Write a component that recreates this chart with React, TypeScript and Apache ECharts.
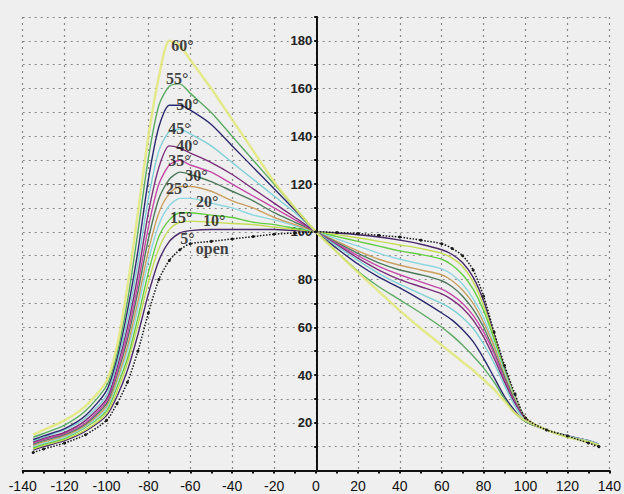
import React, { useEffect, useRef } from "react";
import * as echarts from "echarts";

const xValues = [-135, -130, -120, -110, -100, -95, -90, -85, -80, -75, -70, -65, -60, -50, -40, -30, -20, -10, 0, 10, 20, 30, 40, 50, 60, 65, 70, 75, 80, 85, 90, 95, 100, 110, 120, 130, 135];

const seriesNames = ["open", "5°", "10°", "15°", "20°", "25°", "30°", "35°", "40°", "45°", "50°", "55°", "60°"];

const openVals = [7.5, 9, 11.5, 15, 21, 28, 37, 50, 66, 80, 88, 92.5, 95, 96, 97, 98, 99, 99.5, 100, 99.7, 99.3, 98.5, 97.8, 96.5, 95, 93, 90, 84, 73, 58, 44, 32, 22, 17, 14.5, 11.5, 10];
const deg5 = [8.5, 10, 12.5, 16.5, 23, 31, 42, 57, 74, 88, 96, 99.5, 100.5, 101, 101, 101, 101, 100.5, 100, 99.5, 98.8, 97.8, 96.5, 94.8, 92.5, 90.5, 87, 81, 71, 57, 43, 31, 22, 17, 14.5, 12, 10.5];
const deg10 = [9, 10.5, 13, 17, 24, 33, 45, 61, 79, 93, 101, 104, 104.5, 104, 103.5, 103, 102, 101, 100, 98.8, 97.5, 96, 94.5, 93, 91, 89, 85.5, 79, 69, 56, 42, 31, 22, 17, 14.5, 12, 10.5];
const deg15 = [9.5, 11, 13.5, 18, 25, 35, 47, 64, 83, 98, 105, 108, 108, 107, 106, 104, 103, 101.5, 100, 98, 96, 94, 92, 90.5, 88.5, 86, 82, 76, 67, 55, 42, 30, 22, 17, 14.5, 12, 11];
const deg20 = [10, 11.5, 14, 18.5, 26, 37, 50, 68, 88, 103, 111, 114, 114, 112, 110, 107, 105, 102.5, 100, 97, 94, 91, 88.5, 86.5, 84.5, 82, 78, 72, 64, 53, 41, 30, 22, 17, 14.5, 12.5, 11];
const deg25 = [10.5, 12, 14.5, 19, 27, 38, 52, 71, 92, 108, 116, 119, 119, 117, 113, 110, 106, 103, 100, 96, 92, 88.5, 86, 84, 82, 79.5, 75.5, 70, 62, 52, 40, 29.5, 22, 17, 14.5, 12.5, 11];
const deg30 = [11, 12.5, 15, 19.5, 28, 40, 55, 75, 97, 114, 122, 125, 124, 121, 117, 113, 108, 104, 100, 95.5, 91, 87, 84, 82, 79.5, 77, 73, 67.5, 60, 50, 39, 29, 21.5, 17, 14.5, 12.5, 11];
const deg35 = [11.5, 13, 15.5, 20, 29, 41, 57, 78, 102, 120, 128, 130, 128, 125, 120, 115, 110, 105, 100, 95, 90, 85.5, 82, 79, 76, 73.5, 70, 65, 58, 49, 38, 28.5, 21.5, 17, 14.5, 12.5, 11];
const deg40 = [12, 13.5, 16, 21, 30, 43, 60, 82, 108, 127, 136, 135, 133, 129, 124, 118, 112, 106, 100, 94.5, 89, 84, 80, 77, 74, 71.5, 68, 63, 56, 47, 37, 28, 21.5, 17, 14.5, 12.5, 11];
const deg45 = [12.5, 14, 17, 22, 31.5, 45, 63, 87, 114, 134, 142, 143, 141, 136, 129, 122, 115, 108, 100, 94, 88, 82.5, 78, 74, 70, 67.5, 64, 59.5, 53, 45, 35.5, 27, 21, 17, 14.5, 12.5, 11];
const deg50 = [13, 14.5, 17.5, 23, 33.5, 47, 67, 92, 122, 144, 153, 153, 151, 145, 136, 127, 118, 109, 100, 93, 86.5, 81, 76.5, 71.5, 66, 63, 59, 54, 47, 39, 31, 25, 20.5, 17, 14, 12, 10.5];
const deg55 = [14, 15.5, 19, 25, 35.5, 49, 71, 100, 131, 153, 161, 162, 158, 150, 140, 130, 120, 110, 100, 91.5, 83.5, 77, 71.5, 66, 60, 56.5, 52.5, 48, 43, 37, 30, 24, 20.5, 17, 14, 12, 10.5];
const deg60 = [15, 17, 21, 27, 37.5, 52, 77, 108, 140, 165, 180, 178, 172, 160, 147, 134, 121, 110, 100, 91.5, 83, 75, 67, 59.5, 52.5, 49, 45.5, 42, 38, 34, 29, 24, 21, 17, 14, 12, 10.5];

const allValues = [openVals, deg5, deg10, deg15, deg20, deg25, deg30, deg35, deg40, deg45, deg50, deg55, deg60];

const colors = ["#1a1a1a", "#4a2a6a", "#c6dc55", "#66cc44", "#8fd6e0", "#c9a062", "#4e7a5c", "#c24aa6", "#7a2f78", "#7fd0d6", "#2b2a6e", "#5aaa62", "#e2e878"];

// label anchors (data coordinates)
const labelTexts = ["60°", "55°", "50°", "45°", "40°", "35°", "30°", "25°", "20°", "15°", "10°", "5°", "open"];
const labelX = [-63.8, -66.2, -61.4, -65.2, -61.4, -65.2, -57.1, -66.2, -51.9, -64.3, -48.6, -61.4, -49.5];
const labelY = [178.2, 164.4, 153.2, 143.4, 136.3, 130, 123.8, 118.3, 112.5, 105.8, 104.9, 97.4, 93.2];

const xTickLabels = [-140, -120, -100, -80, -60, -40, -20, 0, 20, 40, 60, 80, 100, 120, 140];
const yTickLabels = [20, 40, 60, 80, 100, 120, 140, 160, 180];

export default function App() {
  const ref = useRef<HTMLDivElement>(null);
  useEffect(() => {
    if (!ref.current) return;
    const chart = echarts.init(ref.current, null, { renderer: "svg" });
    const lineSeries = allValues.map((vals, i) => {
      const isOpen = i === 0;
      const isYellow = i === 12;
      return {
        type: "line",
        name: seriesNames[i],
        data: xValues.map((x, k) => [x, vals[k]]),
        smooth: 0.25,
        showSymbol: isOpen,
        symbol: "circle",
        symbolSize: 3,
        itemStyle: { color: colors[i] },
        lineStyle: {
          color: colors[i],
          width: isYellow ? 2.5 : isOpen ? 1.5 : 1.4,
          type: isOpen ? "dotted" : "solid",
          opacity: isYellow ? 0.85 : 1,
        },
        z: isOpen ? 5 : 3,
        silent: true,
      };
    });
    const labelSeries = {
      type: "scatter",
      data: labelTexts.map((t, i) => ({ value: [labelX[i], labelY[i]], name: t })),
      symbolSize: 0.1,
      itemStyle: { color: "rgba(0,0,0,0)" },
      label: {
        show: true,
        position: "inside",
        formatter: (p: any) => p.name,
        fontFamily: "Liberation Serif",
        fontWeight: "bold",
        fontSize: 16,
        lineHeight: 14,
        color: "#111",
      },
      z: 10,
      silent: true,
    };
    chart.setOption({
      animation: false,
      backgroundColor: "#efefef",
      grid: { left: 22.7, right: 12.3, top: 17, bottom: 23.5 },
      xAxis: {
        type: "value",
        min: -140,
        max: 140,
        interval: 20,
        axisLine: { onZero: false, lineStyle: { color: "#111", width: 2 } },
        axisTick: { show: true, length: 3, lineStyle: { color: "#111", width: 2 } },
        minorTick: { show: true, splitNumber: 2, length: 3, lineStyle: { color: "#111", width: 2 } },
        axisLabel: {
          margin: 8,
          fontFamily: "Liberation Sans",
          fontSize: 14,
          color: "#111",
          formatter: (v: number) => (xTickLabels.includes(v) ? String(v) : ""),
        },
        splitLine: { show: true, lineStyle: { color: "#888", type: [2, 4], width: 1.2 } },
      },
      yAxis: {
        type: "value",
        min: 0,
        max: 190,
        interval: 10,
        offset: -294.5,
        axisLine: { show: true, onZero: false, lineStyle: { color: "#111", width: 2 } },
        axisTick: { show: true, length: 3, lineStyle: { color: "#111", width: 2 } },
        axisLabel: {
          margin: 5,
          fontFamily: "Liberation Sans",
          fontSize: 13,
          fontWeight: "bold",
          color: "#222",
          formatter: (v: number) => (yTickLabels.includes(v) ? String(v) : ""),
        },
        splitLine: { show: true, lineStyle: { color: "#888", type: [2, 4], width: 1.2 } },
      },
      series: [...lineSeries, labelSeries],
    });
    return () => chart.dispose();
  }, []);
  return (
    <div
      ref={ref}
      style={{ position: "fixed", left: 0, top: 0, width: 624, height: 494 }}
    />
  );
}
